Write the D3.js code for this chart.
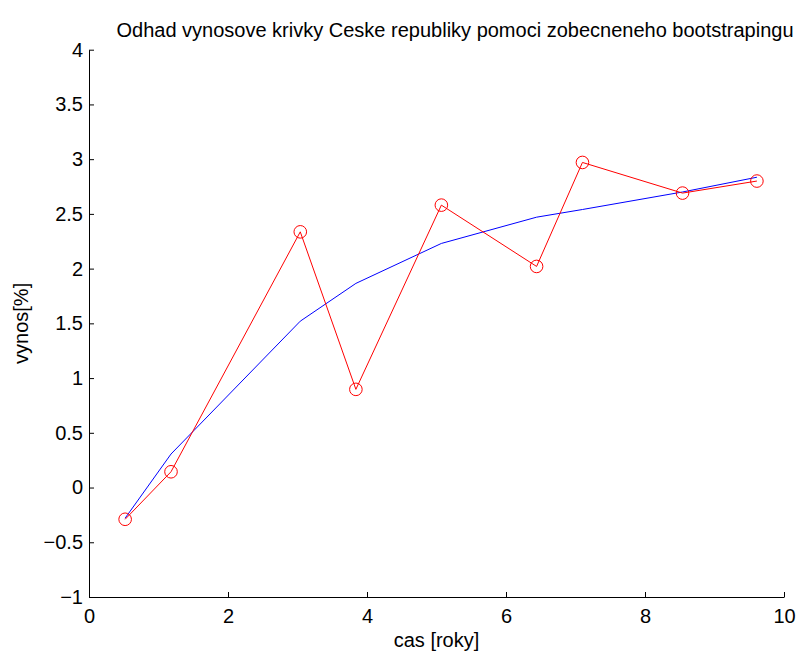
<!DOCTYPE html>
<html>
<head>
<meta charset="utf-8">
<script src="https://cdn.jsdelivr.net/npm/d3@7"></script>
<style>
  html, body { margin: 0; padding: 0; background: #fff; }
  svg { display: block; }
  text { font-family: "Liberation Sans", Arial, Helvetica, sans-serif; fill: #000; }
</style>
</head>
<body>
<svg id="chart" width="799" height="654"></svg>
<script>
// Maturities (years) of the observed bonds
const maturities = [0.52, 1.18, 3.04, 3.84, 5.07, 6.44, 7.10, 8.54, 9.61];
// Observed yields [%]
const observedYields = [-0.29, 0.144, 2.336, 0.897, 2.58, 2.02, 2.97, 2.69, 2.80];
// Fitted yield curve from generalized bootstrapping [%]
const fittedYields = [-0.28, 0.306, 1.52, 1.865, 2.23, 2.47, 2.54, 2.70, 2.835];

const xTicks = [0, 2, 4, 6, 8, 10];
const yTicks = [-1, -0.5, 0, 0.5, 1, 1.5, 2, 2.5, 3, 3.5, 4];

const titleText = "Odhad vynosove krivky Ceske republiky pomoci zobecneneho bootstrapingu";
const xLabel = "cas [roky]";
const yLabel = "vynos[%]";

const FONT = 20;
const svg = d3.select("#chart");
const plotLeft = 89, plotRight = 784, plotTop = 49.7, plotBottom = 597;

const x = d3.scaleLinear().domain([0, 10]).range([plotLeft, plotRight]);
const y = d3.scaleLinear().domain([-1, 4]).range([plotBottom, plotTop]);

const fmt = v => {
  const s = String(v);
  return v < 0 ? "\u2212" + s.slice(1) : s;
};

// x axis
const xAxis = d3.axisBottom(x).tickValues(xTicks).tickFormat(fmt)
  .tickSizeInner(-5).tickSizeOuter(0).tickPadding(12);
const gx = svg.append("g").attr("transform", `translate(0,${plotBottom})`).call(xAxis);
gx.select(".domain").attr("stroke", "#000").attr("stroke-width", 1);
gx.selectAll(".tick line").attr("stroke", "#000");
gx.selectAll("text").attr("font-size", FONT).attr("dy", "0.71em").attr("fill", "#000");

// y axis
const yAxis = d3.axisLeft(y).tickValues(yTicks).tickFormat(fmt)
  .tickSizeInner(-5).tickSizeOuter(0).tickPadding(6);
const gy = svg.append("g").attr("transform", `translate(${plotLeft},0)`).call(yAxis);
gy.select(".domain").attr("stroke", "#000").attr("stroke-width", 1);
gy.selectAll(".tick line").attr("stroke", "#000");
gy.selectAll("text").attr("font-size", FONT).attr("fill", "#000");
svg.selectAll(".tick text").attr("font-family", "Liberation Sans, Arial, sans-serif");

// fitted curve (blue)
const line = d3.line().x((d, i) => x(maturities[i])).y(d => y(d));
svg.append("path").datum(fittedYields)
  .attr("d", line).attr("fill", "none").attr("stroke", "#0000ff").attr("stroke-width", 1);

// observed yields (red line with circle markers)
svg.append("path").datum(observedYields)
  .attr("d", line).attr("fill", "none").attr("stroke", "#ff0000").attr("stroke-width", 1);
svg.append("g").selectAll("circle").data(observedYields).join("circle")
  .attr("cx", (d, i) => x(maturities[i])).attr("cy", d => y(d))
  .attr("r", 6.3).attr("fill", "none").attr("stroke", "#ff0000").attr("stroke-width", 1);

// title and axis labels
svg.append("text").attr("x", 455).attr("y", 37)
  .attr("text-anchor", "middle").attr("font-size", FONT).text(titleText);
svg.append("text").attr("x", (plotLeft + plotRight) / 2).attr("y", 647)
  .attr("text-anchor", "middle").attr("font-size", FONT).text(xLabel);
svg.append("text").attr("transform", `translate(28,${(plotTop + plotBottom) / 2}) rotate(-90)`)
  .attr("text-anchor", "middle").attr("font-size", FONT).text(yLabel);
</script>
</body>
</html>
